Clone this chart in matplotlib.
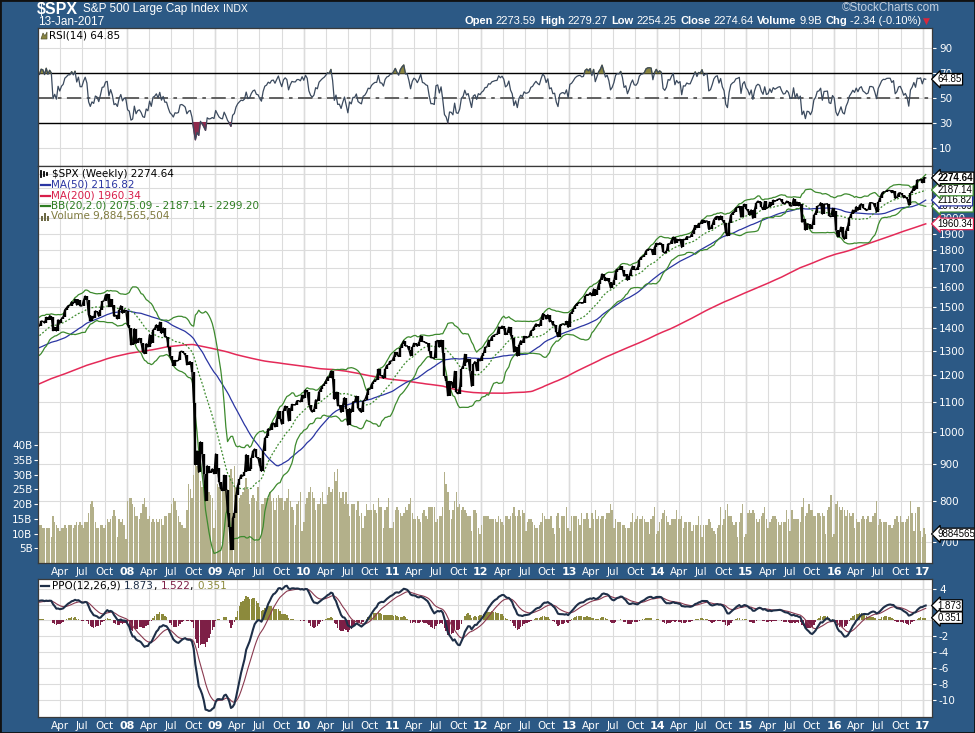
import numpy as np
import pandas as pd
import matplotlib
matplotlib.use("Agg")
import matplotlib.pyplot as plt
import matplotlib.dates as mdates
from matplotlib import font_manager
from matplotlib.lines import Line2D
from matplotlib.patches import Rectangle, Polygon
from matplotlib.ticker import NullLocator

W, H = 975, 733
BG = "#2c5985"

# weekly (Friday) closes of $SPX; 2003-2006 only feed the long averages
close_2003 = [909, 927, 901, 861, 855, 829, 834, 852, 838, 828, 833, 895, 864,
              876, 868, 893, 898, 930, 933, 944, 934, 963, 987, 998, 995, 976,
              985, 998, 993, 998, 980, 977, 990, 993, 1008, 1021, 1018, 1036, 1009,
              1029, 1038, 1039, 1028, 1050, 1058, 1053, 1035, 1058, 1061, 1075, 1089, 1095]
close_2004 = [1122, 1122, 1139, 1141, 1131, 1142, 1146, 1144, 1145, 1156, 1120, 1110, 1108,
              1141, 1139, 1134, 1140, 1107, 1099, 1088, 1094, 1095, 1123, 1136, 1135, 1134,
              1125, 1112, 1101, 1086, 1101, 1064, 1064, 1099, 1107, 1113, 1123, 1128, 1110, 1110,
              1116, 1108, 1095, 1130, 1166, 1185, 1183, 1182, 1191, 1190, 1195, 1194, 1212]
close_2005 = [1186, 1164, 1168, 1171, 1203, 1206, 1201, 1211, 1222, 1200, 1190, 1172, 1181,
              1172, 1143, 1152, 1180, 1179, 1171, 1190, 1198, 1197, 1201, 1216, 1191,
              1211, 1227, 1234, 1237, 1235, 1226, 1219, 1183, 1205, 1241, 1228, 1232, 1215, 1215,
              1195, 1186, 1177, 1199, 1207, 1220, 1234, 1248, 1265, 1258, 1272, 1268, 1248]
close_2006 = [1285, 1290, 1262, 1283, 1265, 1255, 1267, 1290, 1290, 1287, 1282, 1307, 1302,
              1297, 1288, 1311, 1311, 1325, 1291, 1262, 1268, 1280, 1288, 1253, 1252, 1245,
              1280, 1265, 1236, 1260, 1278, 1279, 1266, 1302, 1295, 1299, 1320, 1315, 1314,
              1349, 1362, 1368, 1377, 1378, 1381, 1380, 1400, 1400, 1409, 1407, 1427, 1410]
close_2007 = [1409, 1431, 1430, 1422, 1449, 1438, 1456, 1451, 1387, 1402, 1386, 1437, 1421,
              1443, 1452, 1485, 1494, 1505, 1505, 1523, 1515, 1536, 1507, 1533, 1503, 1503,
              1530, 1552, 1534, 1458, 1433, 1453, 1445, 1479, 1474, 1453, 1484, 1525, 1527,
              1557, 1561, 1500, 1535, 1509, 1453, 1458, 1441, 1481, 1504, 1468, 1484, 1478]
close_2008 = [1411, 1401, 1325, 1330, 1396, 1331, 1349, 1353, 1331, 1294, 1288, 1330, 1316,
              1370, 1332, 1390, 1398, 1414, 1388, 1426, 1375, 1400, 1360, 1360, 1317, 1278,
              1262, 1239, 1260, 1257, 1260, 1296, 1298, 1292, 1283, 1242, 1252, 1255, 1213,
              1099, 899, 940, 877, 968, 930, 873, 800, 896, 876, 879, 887, 873]
close_2009 = [931, 890, 850, 832, 826, 869, 827, 770, 735, 683, 756, 768, 816,
              842, 857, 870, 866, 877, 929, 882, 887, 919, 940, 946, 921, 918,
              896, 880, 940, 979, 987, 1010, 1005, 1026, 1029, 1016, 1042, 1068, 1044,
              1025, 1071, 1087, 1080, 1036, 1069, 1093, 1091, 1091, 1106, 1106, 1102, 1126]
close_2010 = [1115, 1145, 1136, 1092, 1074, 1066, 1075, 1109, 1105, 1139, 1150, 1160, 1167,
              1179, 1194, 1192, 1217, 1187, 1111, 1136, 1088, 1089, 1065, 1092, 1117, 1076,
              1022, 1078, 1065, 1102, 1102, 1122, 1079, 1071, 1065, 1104, 1110, 1125, 1149,
              1147, 1166, 1176, 1183, 1183, 1225, 1200, 1199, 1189, 1225, 1240, 1244, 1257, 1258]
close_2011 = [1272, 1293, 1283, 1276, 1310, 1329, 1343, 1320, 1321, 1304, 1279, 1314,
              1332, 1328, 1319, 1337, 1364, 1340, 1338, 1333, 1331, 1300, 1271, 1271, 1268,
              1340, 1344, 1316, 1345, 1292, 1199, 1179, 1124, 1177, 1174, 1154, 1216, 1136, 1131,
              1155, 1225, 1238, 1285, 1253, 1264, 1216, 1159, 1244, 1255, 1219, 1265, 1258]
close_2012 = [1278, 1289, 1315, 1316, 1345, 1343, 1361, 1366, 1370, 1371, 1404, 1397, 1408,
              1398, 1370, 1378, 1403, 1369, 1353, 1295, 1317, 1278, 1325, 1343, 1335, 1362,
              1355, 1357, 1363, 1386, 1391, 1406, 1418, 1411, 1407, 1438, 1466, 1460, 1441,
              1461, 1428, 1433, 1412, 1414, 1380, 1360, 1409, 1416, 1418, 1413, 1430, 1402]
close_2013 = [1466, 1472, 1486, 1503, 1513, 1518, 1520, 1516, 1518, 1551, 1560, 1556, 1569,
              1553, 1588, 1555, 1582, 1614, 1633, 1667, 1650, 1631, 1643, 1626, 1593, 1606,
              1632, 1680, 1692, 1691, 1709, 1691, 1655, 1664, 1633, 1655, 1688, 1710, 1692,
              1690, 1703, 1745, 1759, 1762, 1771, 1798, 1805, 1806, 1805, 1775, 1818, 1841]
close_2014 = [1832, 1843, 1839, 1790, 1783, 1797, 1838, 1836, 1859, 1878, 1841, 1866, 1857,
              1865, 1816, 1864, 1863, 1881, 1878, 1878, 1900, 1924, 1950, 1936, 1963, 1961,
              1985, 1968, 1978, 1979, 1925, 1931, 1955, 1988, 2003, 2008, 1985, 2011, 1982,
              1968, 1906, 1887, 1965, 2018, 2032, 2040, 2064, 2068, 2075, 2003, 2071, 2089]
close_2015 = [2058, 2045, 2019, 2051, 1995, 2055, 2097, 2110, 2104, 2071, 2053, 2108, 2061,
              2067, 2102, 2081, 2117, 2108, 2116, 2123, 2126, 2107, 2092, 2094, 2110, 2102,
              2077, 2077, 2127, 2080, 2104, 2078, 2092, 1971, 1989, 1921, 1961, 1958, 1931,
              1951, 2015, 2033, 2075, 2079, 2099, 2023, 2089, 2090, 2092, 2012, 2006, 2061]
close_2016 = [2044, 1922, 1880, 1907, 1940, 1880, 1865, 1918, 1948, 1999, 2022, 2050, 2035,
              2073, 2048, 2081, 2092, 2065, 2057, 2047, 2053, 2099, 2099, 2096, 2071, 2037,
              2103, 2130, 2162, 2175, 2174, 2183, 2184, 2184, 2169, 2180, 2128, 2139, 2165, 2168,
              2153, 2133, 2141, 2126, 2085, 2164, 2182, 2213, 2192, 2260, 2258, 2264, 2239]
close_2017 = [2277, 2274.64]

# weekly volume, billions of shares
vol_2007 = [13, 13, 12, 12, 12, 12, 12, 9, 16, 14, 13, 12, 11, 12, 12, 13, 12, 13, 13, 13, 12,
            13, 14, 13, 14, 13, 12, 14, 14, 17, 20, 21, 19, 14, 12, 12, 13, 13, 12,
            13, 15, 14, 15, 16, 18, 16, 9, 15, 14, 15, 13, 8]
vol_2008 = [21, 22, 22, 20, 19, 16, 16, 15, 17, 20, 22, 19, 15, 16, 14, 15, 14, 15, 14, 15, 15, 13,
            16, 16, 17, 17, 20, 22, 21, 18, 16, 14, 13, 12, 12, 18, 27, 25, 22,
            30, 39, 33, 32, 28, 26, 25, 29, 22, 24, 23, 22, 12]
vol_2009 = [18, 27, 26, 25, 24, 26, 28, 25, 30, 32, 29, 33, 26, 25, 22, 23, 24, 26, 29, 25, 20, 22,
            23, 22, 21, 26, 18, 20, 20, 22, 22, 22, 24, 21, 22, 18, 22, 23, 22,
            22, 18, 21, 22, 25, 21, 19, 18, 13, 20, 21, 24, 11]
vol_2010 = [14, 20, 22, 24, 26, 24, 22, 18, 20, 20, 22, 24, 20, 20, 23, 26, 24, 25, 31, 28, 32, 24,
            22, 24, 20, 24, 20, 16, 20, 20, 20, 18, 21, 16, 17, 12, 16, 20, 18,
            18, 18, 20, 18, 17, 22, 19, 19, 12, 18, 19, 22, 12, 12]
vol_2011 = [14, 18, 19, 18, 17, 16, 17, 19, 18, 20, 22, 17, 15, 15, 16, 15, 14, 17, 18, 16, 15,
            19, 19, 19, 19, 14, 15, 16, 16, 19, 31, 27, 24, 18, 15, 18, 21, 24, 19,
            20, 18, 19, 18, 17, 16, 16, 11, 18, 18, 17, 12, 10]
vol_2012 = [13, 16, 16, 16, 16, 15, 15, 15, 15, 14, 16, 15, 14, 13, 16, 16, 15, 16, 17, 19, 16,
            16, 18, 16, 18, 17, 11, 14, 15, 15, 14, 13, 12, 12, 13, 14, 17, 16, 15,
            15, 15, 16, 12, 10, 16, 17, 12, 16, 16, 16, 19, 12]
vol_2013 = [11, 16, 16, 16, 16, 15, 13, 17, 15, 15, 17, 15, 12, 17, 15, 18, 15, 16, 15, 16, 16, 15,
            17, 17, 20, 18, 12, 15, 14, 14, 14, 13, 13, 12, 12, 12, 14, 17, 14,
            15, 16, 15, 15, 16, 15, 14, 14, 10, 15, 16, 19, 10]
vol_2014 = [11, 14, 15, 17, 18, 16, 14, 13, 15, 15, 15, 18, 15, 15, 16, 12, 14, 14, 14, 14, 11, 13,
            13, 13, 16, 13, 9, 13, 13, 13, 15, 14, 12, 11, 10, 12, 13, 19, 13,
            15, 18, 20, 16, 16, 14, 13, 14, 9, 14, 17, 20, 9]
vol_2015 = [10, 17, 18, 17, 18, 17, 15, 14, 15, 16, 17, 19, 15, 12, 14, 15, 16, 16, 15, 14, 13, 14,
            14, 14, 18, 15, 11, 18, 15, 15, 15, 15, 14, 19, 22, 16, 17, 20, 18,
            18, 16, 16, 17, 17, 16, 17, 16, 10, 18, 19, 23, 9]
vol_2016 = [10, 20, 21, 19, 18, 19, 18, 16, 18, 17, 16, 17, 12, 15, 14, 14, 15, 16, 15, 15, 16, 14,
            14, 16, 17, 21, 13, 15, 14, 14, 14, 14, 13, 13, 12, 13, 15, 16, 14, 16,
            14, 14, 14, 15, 16, 21, 17, 11, 17, 19, 19, 11, 9]
vol_2017 = [12, 9.88]

# ---------------------------------------------------------------- indicators
close = (close_2003 + close_2004 + close_2005 + close_2006 + close_2007 + close_2008
         + close_2009 + close_2010 + close_2011 + close_2012 + close_2013 + close_2014
         + close_2015 + close_2016 + close_2017)
px = pd.Series(close, index=pd.date_range(end="2017-01-13", periods=len(close), freq="W-FRI"),
               dtype=float)
volume = (vol_2007 + vol_2008 + vol_2009 + vol_2010 + vol_2011 + vol_2012 + vol_2013
          + vol_2014 + vol_2015 + vol_2016 + vol_2017)
vol = pd.Series(volume, index=pd.date_range(end="2017-01-13", periods=len(volume), freq="W-FRI"),
                dtype=float)

ma50 = px.rolling(50).mean()
ma200 = px.rolling(200).mean()
bb_mid = px.rolling(20).mean()
bb_sd = px.rolling(20).std(ddof=0)
bb_up = bb_mid + 2 * bb_sd
bb_lo = bb_mid - 2 * bb_sd

d = px.diff()
gain = d.clip(lower=0).ewm(alpha=1 / 14, adjust=False).mean()
loss = (-d.clip(upper=0)).ewm(alpha=1 / 14, adjust=False).mean()
rsi = 100 - 100 / (1 + gain / loss)

e12 = px.ewm(span=12, adjust=False).mean()
e26 = px.ewm(span=26, adjust=False).mean()
ppo = (e12 - e26) / e26 * 100
ppo_sig = ppo.ewm(span=9, adjust=False).mean()
ppo_hist = ppo - ppo_sig

vis = px.index >= "2007-01-01"
dts = px.index[vis]

# ---------------------------------------------------------------- layout
names = {f.name for f in font_manager.fontManager.ttflist}
HDR = "Liberation Sans Narrow" if "Liberation Sans Narrow" in names else "Liberation Sans"

fig = plt.figure(figsize=(W / 100, H / 100), dpi=100, facecolor=BG)
rend = fig.canvas.get_renderer()


def rect(x0, y0, x1, y1):
    return [x0 / W, 1 - y1 / H, (x1 - x0) / W, (y1 - y0) / H]


def fx(x):
    return x / W


def fy(y):
    return 1 - y / H


def width(t):
    return t.get_window_extent(renderer=rend).width


XL = (mdates.date2num(pd.Timestamp("2006-12-30")), mdates.date2num(pd.Timestamp("2017-02-08")))
qticks = pd.date_range("2007-04-01", "2017-01-01", freq="QS")
qlabels = [t.strftime("%y") if t.month == 1 else t.strftime("%b") for t in qticks]
GRID = "#dcdcdc"
YEARGRID = "#b4b4b4"


def xaxis_setup(ax, labels):
    ax.set_xlim(XL)
    ax.set_xticks(qticks)
    ax.grid(axis="x", color=GRID, lw=0.8)
    for t in qticks:
        if t.month == 1:
            ax.axvline(t, color=YEARGRID, lw=0.9, zorder=0.5)
    if labels:
        ax.set_xticklabels(qlabels)
        ax.tick_params(axis="x", length=0, pad=3, labelcolor="white", labelsize=7.5)
        for lab in ax.get_xticklabels():
            if lab.get_text().isdigit():
                lab.set_fontweight("bold")
                lab.set_fontsize(8)
    else:
        ax.tick_params(axis="x", length=0, labelbottom=False)


def style_spines(ax):
    for s in ax.spines.values():
        s.set_color("#3a3a3a")
        s.set_linewidth(0.9)


def tag(ax, y, text, ec, bold=False, size=7):
    ax.annotate(text, xy=(1.0, y), xycoords=("axes fraction", "data"),
                xytext=(4, 0), textcoords="offset points", ha="left", va="center",
                fontsize=size, fontweight="bold" if bold else "normal", family="Liberation Sans",
                annotation_clip=False, zorder=10,
                bbox=dict(boxstyle="larrow,pad=0.08", fc="white", ec=ec, lw=0.9))


# ---------------------------------------------------------------- RSI panel
ax_r = fig.add_axes(rect(38, 28, 932, 166))
ax_r.set_facecolor("white")
xaxis_setup(ax_r, False)
ax_r.set_ylim(-4.8, 106)
ax_r.set_yticks([10, 30, 50, 70, 90])
ax_r.yaxis.tick_right()
ax_r.tick_params(axis="y", length=3, color="white", labelcolor="white", labelsize=7.5, pad=2)
ax_r.grid(axis="y", color=GRID, lw=0.8)
ax_r.axhline(70, color="black", lw=1.0, zorder=2)
ax_r.axhline(30, color="black", lw=1.0, zorder=2)
ax_r.axhline(50, color="#555555", lw=1.3, dashes=(8, 3, 2, 3), zorder=2)
rv = rsi[vis]
ax_r.fill_between(dts, rv, 70, where=rv > 70, interpolate=True, color="#8a8540", zorder=3)
ax_r.fill_between(dts, rv, 30, where=rv < 30, interpolate=True, color="#8e2a4c", zorder=3)
ax_r.plot(dts, rv, color="#3b4a5e", lw=0.9, zorder=4)
style_spines(ax_r)
tag(ax_r, 64.85, "64.85", "black")
fig.add_artist(Polygon([(fx(41), fy(39)), (fx(43), fy(33)), (fx(45), fy(36)), (fx(47), fy(32)),
                        (fx(47), fy(39))], closed=True, transform=fig.transFigure,
                       fc="#8a8540", ec="#555533", lw=0.5))
fig.text(fx(49), fy(35), "RSI(14) 64.85", color="black", fontsize=7.5, va="center")

# ---------------------------------------------------------------- price panel
ax_bg = fig.add_axes(rect(38, 166, 932, 563))
ax_bg.set_facecolor("white")
ax_bg.set_yscale("log")
ax_bg.set_ylim(654, 2364)
pticks = list(range(700, 2400, 100))
ax_bg.set_yticks(pticks)
ax_bg.set_yticklabels([str(v) if v <= 2000 else "" for v in pticks])
ax_bg.yaxis.set_minor_locator(NullLocator())
ax_bg.yaxis.tick_right()
ax_bg.tick_params(axis="y", length=3, color="white", labelcolor="white", labelsize=7.5, pad=2)
ax_bg.grid(axis="y", color=GRID, lw=0.8)
xaxis_setup(ax_bg, True)
for s in ax_bg.spines.values():
    s.set_visible(False)

ax_v = fig.add_axes(rect(38, 166, 932, 563))
ax_v.patch.set_visible(False)
ax_v.set_xlim(XL)
ax_v.set_ylim(0, 135)
ax_v.set_yticks(range(5, 45, 5))
ax_v.set_yticklabels([f"{v}B" for v in range(5, 45, 5)])
ax_v.tick_params(axis="y", length=3, color="white", labelcolor="white", labelsize=7.5, pad=1)
ax_v.set_xticks([])
for s in ax_v.spines.values():
    s.set_visible(False)
ax_v.bar(vol.index, vol.values, width=6, color="#b3b08a", edgecolor="none")
tag(ax_v, 9.88, "9884565504", "black")

ax_p = fig.add_axes(rect(38, 166, 932, 563))
ax_p.patch.set_visible(False)
ax_p.set_yscale("log")
ax_p.set_xlim(XL)
ax_p.set_ylim(654, 2364)
ax_p.yaxis.set_minor_locator(NullLocator())
ax_p.tick_params(which="both", left=False, right=False, bottom=False,
                 labelleft=False, labelbottom=False)
style_spines(ax_p)

ax_p.plot(dts, ma200[vis], color="#e42a58", lw=1.1)
ax_p.plot(dts, ma50[vis], color="#2a35a2", lw=0.9)
ax_p.plot(dts, bb_up[vis], color="#3d8a2e", lw=0.9)
ax_p.plot(dts, bb_lo[vis], color="#3d8a2e", lw=0.9)
ax_p.plot(dts, bb_mid[vis], color="#3d8a2e", lw=0.9, ls=(0, (1.5, 1.5)))
prev = px.shift(1)[vis]
cur = px[vis]
ax_p.vlines(dts, np.minimum(prev, cur), np.maximum(prev, cur), color="black", lw=1.7)
ax_p.plot(dts, cur, color="black", lw=1.0)

tag(ax_p, 1960.34, "1960.34", "#e42a58")
tag(ax_p, 2075.09, "2075.09", "#3d8a2e")
tag(ax_p, 2116.82, "2116.82", "#2a35a2")
tag(ax_p, 2187.14, "2187.14", "#3d8a2e")
tag(ax_p, 2274.64, "2274.64", "black", bold=True)

# legend block
leg_y = [174, 184.5, 195.5, 206, 216.5]
for i, x in enumerate([41, 44, 47]):
    fig.add_artist(Line2D([fx(x), fx(x)], [fy(177 - i), fy(171 + i)], transform=fig.transFigure,
                          color="black", lw=1.3))
fig.text(fx(52), fy(leg_y[0]), "$SPX (Weekly) 2274.64", color="black", fontsize=7.5, va="center")
for y, col, txt in [(leg_y[1], "#2a35a2", "MA(50) 2116.82"),
                    (leg_y[2], "#d81e4a", "MA(200) 1960.34"),
                    (leg_y[3], "#2e7d22", "BB(20,2.0) 2075.09 - 2187.14 - 2299.20")]:
    fig.add_artist(Line2D([fx(41), fx(50)], [fy(y), fy(y)], transform=fig.transFigure,
                          color=col, lw=1.6))
    fig.text(fx(51), fy(y), txt, color=col, fontsize=7.5, va="center")
for i, h in enumerate([4, 7, 5]):
    fig.add_artist(Rectangle((fx(41 + i * 3), fy(leg_y[4] + 4)), 2 / W, h / H,
                             transform=fig.transFigure, fc="#6d6a45", ec="none"))
fig.text(fx(51), fy(leg_y[4]), "Volume 9,884,565,504", color="#7f7a3e", fontsize=7.5, va="center")

# ---------------------------------------------------------------- PPO panel
ax_m = fig.add_axes(rect(38, 579, 932, 717))
ax_m.set_facecolor("white")
xaxis_setup(ax_m, True)
ax_m.set_ylim(-12.1, 5.2)
mticks = list(range(-10, 5, 2))
ax_m.set_yticks(mticks)
ax_m.set_yticklabels(["" if v in (0, 2) else str(v) for v in mticks])
ax_m.yaxis.tick_right()
ax_m.tick_params(axis="y", length=3, color="white", labelcolor="white", labelsize=7.5, pad=2)
ax_m.grid(axis="y", color=GRID, lw=0.8)
hv = ppo_hist[vis]
ax_m.bar(dts, hv.values, width=6, color=np.where(hv.values >= 0, "#8c8a3c", "#7d1f46"),
         edgecolor="none", zorder=2)
ax_m.plot(dts, ppo_sig[vis], color="#8a3a50", lw=0.8, zorder=3)
ax_m.plot(dts, ppo[vis], color="#1e2f48", lw=1.5, zorder=4)
style_spines(ax_m)
tag(ax_m, 1.873, "1.873", "black")
tag(ax_m, 0.351, "0.351", "black")

fig.add_artist(Line2D([fx(41), fx(49)], [fy(586), fy(586)], transform=fig.transFigure,
                      color="#1e2f48", lw=1.6))
x = 52
for txt, col in [("PPO(12,26,9) ", "black"), ("1.873", "#1e2f48"), (", ", "black"),
                 ("1.522", "#7d1f46"), (", ", "black"), ("0.351", "#8c8a3c")]:
    t = fig.text(fx(x), fy(586), txt, color=col, fontsize=7.5, va="center")
    x += width(t)

# ---------------------------------------------------------------- header
t = fig.text(fx(37), fy(10), "$SPX", color="white", fontsize=11.5, fontweight="bold",
             family=HDR, va="center")
x = 37 + width(t) + 5
t = fig.text(fx(x), fy(9), "S&P 500 Large Cap Index", color="white", fontsize=8.5,
             family=HDR, va="center")
x += width(t) + 4
fig.text(fx(x), fy(9), "INDX", color="white", fontsize=7.5, family=HDR, va="center")
fig.text(fx(38), fy(22), "13-Jan-2017", color="white", fontsize=8.5, family=HDR, va="center")
fig.text(fx(940), fy(8), "\u00a9StockCharts.com", color="#c3d0df", fontsize=8.5,
         family=HDR, va="center", ha="right")

pieces = [("Open", True), ("2273.59", False), ("High", True), ("2279.27", False),
          ("Low", True), ("2254.25", False), ("Close", True), ("2274.64", False),
          ("Volume", True), ("9.9B", False), ("Chg", True), ("-2.34 (-0.10%)", False)]
fig.text(fx(930), fy(21), "\u25bc", color="#d8283c", fontsize=6.5, va="center", ha="right")
x = 921
for txt, bold in reversed(pieces):
    t = fig.text(fx(x), fy(21), txt, color="white", fontsize=8, family=HDR,
                 fontweight="bold" if bold else "normal", va="center", ha="right")
    x -= width(t) + (2.5 if not bold else 4)

fig.add_artist(Rectangle((0, 0), 1, 1, transform=fig.transFigure, fc="none",
                         ec="#111111", lw=2))

fig.savefig("out.png", dpi=100, facecolor=BG)
